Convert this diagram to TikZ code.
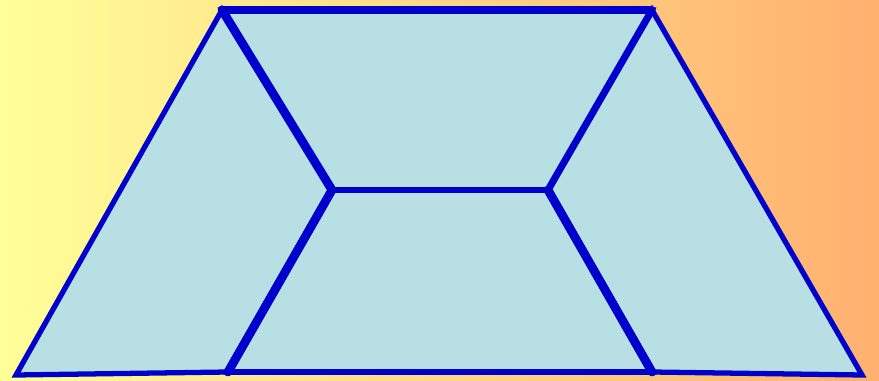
\documentclass[tikz,border=0pt]{standalone}
\usepackage{tikz}
\usetikzlibrary{calc}
\usepackage{xcolor}
\definecolor{bgyellow}{HTML}{ffff99}
\definecolor{bgorange}{HTML}{ffb070}
\definecolor{facecyan}{HTML}{b8dfe3}
\definecolor{edgeblue}{HTML}{0000cc}
\tikzset{
  face/.style={fill=facecyan, draw=edgeblue, line width=3pt, line join=miter},
  seam/.style={draw=edgeblue, line width=5pt, line cap=round},
}

\begin{document}
\begin{tikzpicture}[x=0.02cm, y=-0.02cm]
  % background
  \shade[left color=bgyellow, right color=bgorange] (0,0) rectangle (879,381);
  \useasboundingbox (0,0) rectangle (879,381);

  % outer corners and inner joints
  \coordinate (tl) at (222,10);
  \coordinate (tr) at (652,10);
  \coordinate (bl) at (16,375);
  \coordinate (br) at (862,375);
  \coordinate (il) at (332,190);
  \coordinate (ir) at (548,190);
  \coordinate (gl) at (228,372);
  \coordinate (gr) at (652,372);

  % four faces
  \draw[face] (tl) -- (il) -- (gl) -- (bl) -- cycle;
  \draw[face] (tr) -- (br) -- (gr) -- (ir) -- cycle;
  \draw[face] (il) -- (ir) -- (gr) -- (gl) -- cycle;
  \draw[face] (tl) -- (tr) -- (ir) -- (il) -- cycle;

  % shared seams
  \draw[seam] (tl) -- (il);
  \draw[seam] (il) -- (gl);
  \draw[seam] (ir) -- (gr);
  \draw[seam, line width=4pt] (tl) -- (tr);
  \draw[seam, line width=4pt] (tr) -- (ir);
  \draw[seam, line width=3.4pt] (il) -- (ir);
  \draw[seam, line width=3.4pt] (gl) -- (gr);
\end{tikzpicture}
\end{document}
